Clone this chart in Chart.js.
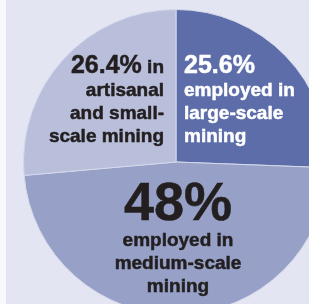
<!DOCTYPE html>
<html>
<head>
<meta charset="utf-8">
<script src="https://cdn.jsdelivr.net/npm/chart.js@4.4.0/dist/chart.umd.min.js"></script>
<style>
  html, body { margin: 0; padding: 0; width: 309px; height: 304px; overflow: hidden; background: #f8f9fc; }
  #panel { position: absolute; left: 6px; top: 0; width: 303px; height: 304px; background: #e3e6f2; }
  #wrap { position: absolute; left: 23px; top: 9px; width: 306px; height: 306px; }
</style>
</head>
<body>
<div id="panel"></div>
<div id="wrap"><canvas id="pieChart" width="306" height="306"></canvas></div>
<script>
// slices, clockwise from the top
const categories = ['large-scale mining', 'medium-scale mining', 'artisanal and small-scale mining'];
const shares = [25.6, 48, 26.4];
const sliceColors = ['#5d6da9', '#97a1c7', '#b9bfdb'];

// label text, first line is the percentage
const labelLines = [
    ['25.6%', 'employed in', 'large-scale', 'mining'],
    ['48%', 'employed in', 'medium-scale', 'mining'],
    ['26.4%', 'artisanal', 'and small-', 'scale mining']
];

const FONT = '"Liberation Sans", Arial, Helvetica, sans-serif';

// fill plus a thin stroke, the original type is a bit heavier
function heavyText(ctx, txt, x, y) {
    ctx.fillText(txt, x, y);
    ctx.strokeText(txt, x, y);
}

const labelPlugin = {
    id: 'sliceLabels',
    afterDraw: function (chart) {
        const ctx = chart.ctx;
        const arc = chart.getDatasetMeta(0).data[0];
        const cx = arc.x, cy = arc.y;
        ctx.save();
        ctx.textBaseline = 'alphabetic';
        ctx.lineWidth = 0.5;

        // large-scale (white, left aligned, right of the divider)
        let lines = labelLines[0];
        ctx.fillStyle = '#ffffff';
        ctx.strokeStyle = '#ffffff';
        ctx.textAlign = 'left';
        ctx.font = 'bold 25px ' + FONT;
        heavyText(ctx, lines[0], cx + 8, cy - 89);
        ctx.font = 'bold 19px ' + FONT;
        for (let i = 1; i < lines.length; i++) {
            heavyText(ctx, lines[i], cx + 8, cy - 89 + 23 * i);
        }

        // artisanal (dark, right aligned, left of the divider)
        lines = labelLines[2];
        ctx.fillStyle = '#231f20';
        ctx.strokeStyle = '#231f20';
        ctx.textAlign = 'right';
        ctx.font = 'bold 19px ' + FONT;
        const inW = ctx.measureText(' in').width;
        heavyText(ctx, ' in', cx - 12, cy - 89);
        ctx.font = 'bold 25px ' + FONT;
        heavyText(ctx, lines[0], cx - 12 - inW, cy - 89);
        ctx.font = 'bold 19px ' + FONT;
        for (let i = 1; i < lines.length; i++) {
            heavyText(ctx, lines[i], cx - 12, cy - 89 + 23 * i);
        }

        // medium-scale (dark, centred, lower half)
        lines = labelLines[1];
        ctx.textAlign = 'center';
        ctx.font = 'bold 54px ' + FONT;
        heavyText(ctx, lines[0], cx + 2, cy + 58);
        ctx.font = 'bold 19px ' + FONT;
        for (let i = 1; i < lines.length; i++) {
            heavyText(ctx, lines[i], cx + 2, cy + 61 + 23 * i);
        }
        ctx.restore();
    }
};

new Chart(document.getElementById('pieChart').getContext('2d'), {
    type: 'pie',
    data: {
        labels: categories,
        datasets: [{
            data: shares,
            backgroundColor: sliceColors,
            borderColor: '#d4d8ea',
            borderWidth: 1,
            hoverOffset: 0
        }]
    },
    options: {
        responsive: false,
        animation: false,
        layout: { padding: 0 },
        plugins: {
            legend: { display: false },
            tooltip: { enabled: false }
        }
    },
    plugins: [labelPlugin]
});
</script>
</body>
</html>
